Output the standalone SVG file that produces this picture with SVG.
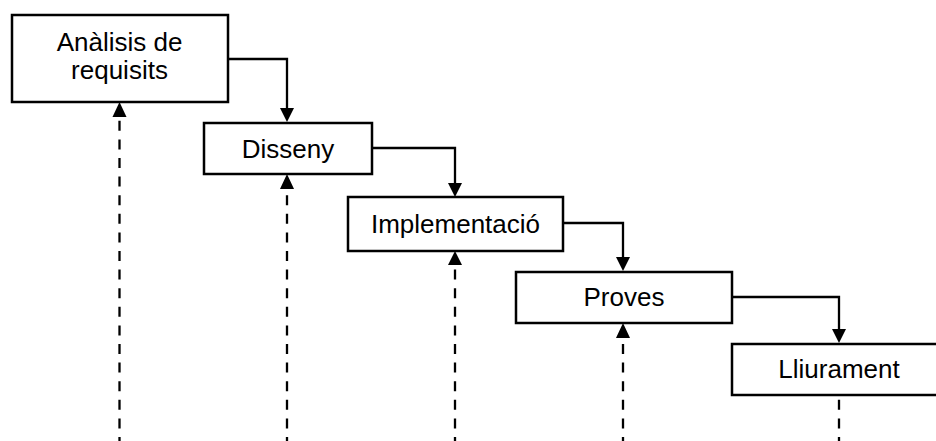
<svg xmlns="http://www.w3.org/2000/svg" width="936" height="441" viewBox="0 0 936 441">
<style>
.box{fill:#fff;stroke:#000;stroke-width:2.5}
.lbl{font-family:"Liberation Sans",Arial,sans-serif;font-size:26px;fill:#000;text-anchor:middle}
.flow{fill:none;stroke:#000;stroke-width:2.3}
.dash{fill:none;stroke:#000;stroke-width:2.3;stroke-dasharray:10 8.6}
.head{fill:#000}
</style>
<rect width="936" height="441" fill="#fff"/>
<g id="connectors">
<path class="flow" d="M228 59 H287 V110"/>
<polygon class="head" points="287,122 280,108 294,108"/>
<path class="flow" d="M372 148 H455 V185"/>
<polygon class="head" points="455,197 448,183 462,183"/>
<path class="flow" d="M563 223 H623 V259"/>
<polygon class="head" points="623,271 616,257 630,257"/>
<path class="flow" d="M732 297 H839 V331"/>
<polygon class="head" points="839,343 832,329 846,329"/>
<path class="dash" d="M119.5 447 V116"/>
<polygon class="head" points="119.5,102 112.5,117 126.5,117"/>
<path class="dash" d="M287 447 V188"/>
<polygon class="head" points="287,174 280,189 294,189"/>
<path class="dash" d="M455 447 V264"/>
<polygon class="head" points="455,251 448,265 462,265"/>
<path class="dash" d="M623 447 V337"/>
<polygon class="head" points="623,323 616,338 630,338"/>
<path class="dash" d="M839 447 V395"/>
</g>
<g id="n1"><rect class="box" x="12" y="15" width="216" height="87"/><text class="lbl" x="119.5" y="50.5">Anàlisis de</text><text class="lbl" x="119.5" y="79">requisits</text></g>
<g id="n2"><rect class="box" x="204" y="123" width="168" height="51"/><text class="lbl" x="288" y="158">Disseny</text></g>
<g id="n3"><rect class="box" x="348" y="197" width="215" height="54"/><text class="lbl" x="455.5" y="232.5">Implementació</text></g>
<g id="n4"><rect class="box" x="516" y="272" width="216" height="51"/><text class="lbl" x="624" y="306">Proves</text></g>
<g id="n5"><rect class="box" x="732" y="344" width="216" height="51"/><text class="lbl" x="839" y="378">Lliurament</text></g>
</svg>
